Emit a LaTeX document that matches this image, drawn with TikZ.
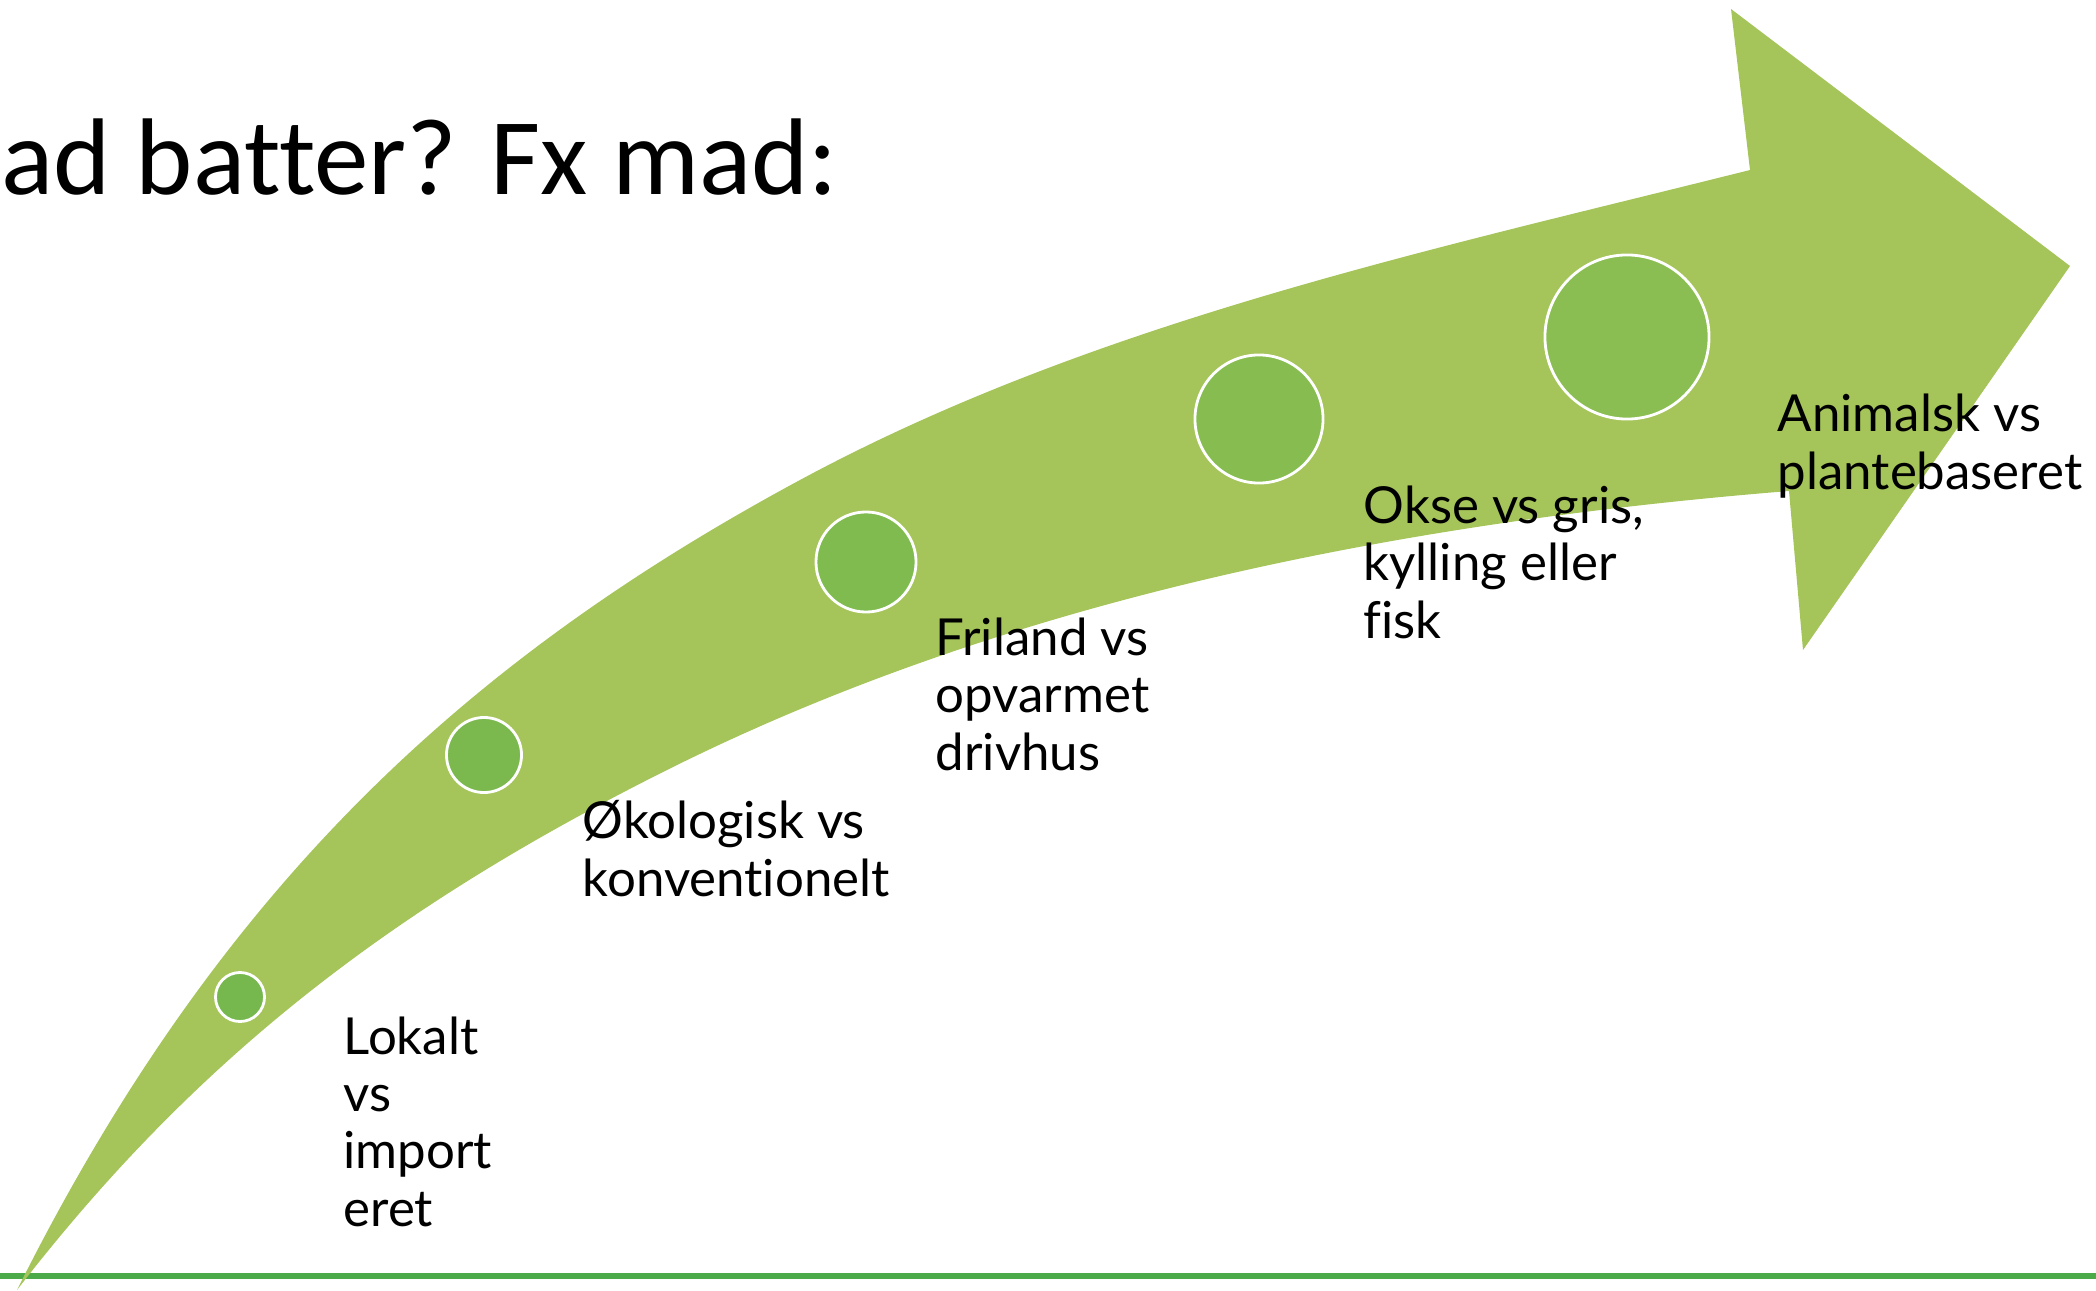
\documentclass[tikz,border=0pt]{standalone}
\usepackage{fontspec}
\setmainfont[Ligatures=NoCommon]{Lato}
\newfontfamily\headfont[Ligatures=NoCommon]{Carlito}
\usepackage{tikz}
\definecolor{arrowgreen}{RGB}{165,196,89}
\definecolor{linegreen}{RGB}{76,170,72}
\definecolor{spotA}{RGB}{118,184,78}
\definecolor{spotB}{RGB}{123,185,79}
\definecolor{spotC}{RGB}{128,187,80}
\definecolor{spotD}{RGB}{134,188,80}
\definecolor{spotE}{RGB}{138,190,82}

\begin{document}
\begin{tikzpicture}[x=0.01cm,y=-0.01cm,
spot/.style={circle,draw=white,line width=0.8pt,inner sep=0pt},
itemtext/.style={anchor=base west,align=left,inner sep=0pt,font=\fontsize{14.5pt}{16.3pt}\selectfont}]
\useasboundingbox (0,0) rectangle (2096,1291);
\draw[linegreen,line width=1.7pt](0,1276)--(2096,1276);
% curved arrow
\fill[arrowgreen](17,1290)..controls(218,888)and(466,660)..(800,480)
..controls(1093,322)and(1427,251)..(1750,170)
--(1731,9)--(2070,266)--(1803,650)--(1789,491)
..controls(1405,522)and(1011,598)..(667,770)
..controls(399,904)and(200,1053)..(17,1290)--cycle;
\node[anchor=base west,inner sep=0pt,font=\headfont\fontsize{31pt}{37pt}\selectfont](title) at (1,195){ad batter? Fx mad:};
\node[spot,fill=spotA,minimum size=0.49cm](s1) at (240,997){};
\node[spot,fill=spotB,minimum size=0.75cm](s2) at (484,755){};
\node[spot,fill=spotC,minimum size=1.0cm](s3) at (866,562){};
\node[spot,fill=spotD,minimum size=1.28cm](s4) at (1259,419){};
\node[spot,fill=spotE,minimum size=1.64cm](s5) at (1627,337){};
% base anchor sits on the last line
\node[itemtext](t1) at (343,1226){Lokalt\\vs\\import\\eret};
\node[itemtext](t2) at (582,896){Økologisk vs\\konventionelt};
\node[itemtext](t3) at (935,770){Friland vs\\opvarmet\\drivhus};
\node[itemtext](t4) at (1363,638){Okse vs gris,\\kylling eller\\fisk};
\node[itemtext](t5) at (1777,489){Animalsk vs\\plantebaseret};
\end{tikzpicture}
\end{document}
